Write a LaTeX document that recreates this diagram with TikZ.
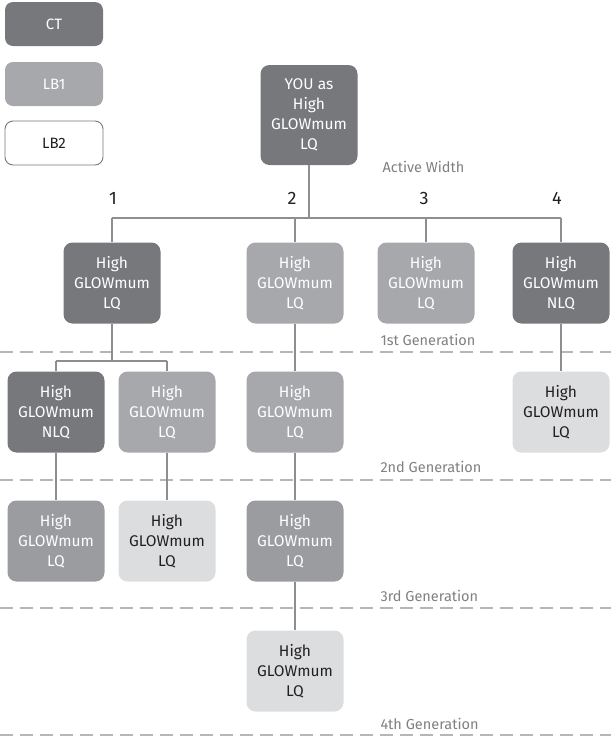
\documentclass[tikz,border=0pt]{standalone}
\usepackage{fontspec}
\setmainfont{Fira Sans}
\usepackage{xcolor}
\usepackage{tikz}
\definecolor{ctgray}{HTML}{77787B}
\definecolor{lbgray}{HTML}{A7A8AB}
\definecolor{midgray}{HTML}{9B9C9F}
\definecolor{palegray}{HTML}{DCDDDF}
\definecolor{inkblack}{HTML}{231F20}
\definecolor{linegray}{HTML}{8D8E91}
\definecolor{dashgray}{HTML}{B5B6B8}
\definecolor{notegray}{HTML}{7F8083}

\begin{document}
\begin{tikzpicture}[x=1pt, y=-1pt,
    gbox/.style={rounded corners=9pt, minimum width=97pt, minimum height=81pt, align=center, inner sep=0pt, font=\fontsize{15.5}{20}\selectfont, text=white},
    ctbox/.style={gbox, fill=ctgray},
    lbbox/.style={gbox, fill=lbgray},
    midbox/.style={gbox, fill=midgray},
    palebox/.style={gbox, fill=palegray, text=inkblack},
    keybox/.style={rounded corners=8pt, minimum width=98pt, minimum height=44pt, inner sep=0pt, font=\fontsize{15}{17}\selectfont},
    link/.style={draw=linegray, line width=1.4pt},
    genline/.style={draw=dashgray, line width=1.3pt, dash pattern=on 13pt off 7pt},
    genlabel/.style={anchor=west, text=notegray, font=\fontsize{14.5}{16}\selectfont},
    colnum/.style={text=inkblack, font=\fontsize{18}{20}\selectfont}]
        \useasboundingbox (0,0) rectangle (611,737);

        \node[keybox, fill=ctgray, text=white] (ct) at (54,24) {CT};
        \node[keybox, fill=lbgray, text=white] (lbone) at (54,84) {LB1};
        \node[keybox, draw=ctgray, line width=0.9pt, fill=white, text=inkblack] (lbtwo) at (54,143) {LB2};

        \draw[genline] (0,352) -- (611,352);
        \draw[genline] (0,480) -- (611,480);
        \draw[genline] (0,608) -- (611,608);
        \draw[genline] (0,735) -- (611,735);

        \node[ctbox, minimum height=100pt] (root) at (309,115) {YOU as\\High\\GLOWmum\\LQ};
        \node[genlabel] (width) at (379,167) {Active Width};

        \node[colnum] (n1) at (113,198) {1};
        \node[colnum] (n2) at (292,198) {2};
        \node[colnum] (n3) at (424,198) {3};
        \node[colnum] (n4) at (557,198) {4};

        \node[ctbox] (g1a) at (112,283) {High\\GLOWmum\\LQ};
        \node[lbbox] (g1b) at (295,283) {High\\GLOWmum\\LQ};
        \node[lbbox] (g1c) at (426,283) {High\\GLOWmum\\LQ};
        \node[ctbox] (g1d) at (561,283) {High\\GLOWmum\\NLQ};
        \node[genlabel] (gen1) at (377,340) {1st Generation};

        \node[ctbox] (g2a) at (56,412) {High\\GLOWmum\\NLQ};
        \node[lbbox] (g2b) at (167,412) {High\\GLOWmum\\LQ};
        \node[lbbox] (g2c) at (295,412) {High\\GLOWmum\\LQ};
        \node[palebox] (g2d) at (561,412) {High\\GLOWmum\\LQ};
        \node[genlabel] (gen2) at (377,467) {2nd Generation};

        \node[midbox] (g3a) at (56,541) {High\\GLOWmum\\LQ};
        \node[palebox] (g3b) at (167,541) {High\\GLOWmum\\LQ};
        \node[midbox] (g3c) at (295,541) {High\\GLOWmum\\LQ};
        \node[genlabel] (gen3) at (377,596) {3rd Generation};

        \node[palebox] (g4) at (295,671) {High\\GLOWmum\\LQ};
        \node[genlabel] (gen4) at (377,724) {4th Generation};

        \coordinate (bus) at (0,218);
        \coordinate (split) at (0,361);
        \draw[link] (root.south) -- (root |- bus);
        \draw[link] (g1a |- bus) -- (g1d |- bus);
        \foreach \g in {g1a,g1b,g1c,g1d}
            \draw[link] (\g |- bus) -- (\g.north);

        \draw[link] (g1a.south) -- (g1a |- split);
        \draw[link] (g2a |- split) -- (g2b |- split);
        \draw[link] (g2a |- split) -- (g2a.north);
        \draw[link] (g2b |- split) -- (g2b.north);
        \draw[link] (g1b) -- (g2c);
        \draw[link] (g1d) -- (g2d);
        \draw[link] (g2a) -- (g3a);
        \draw[link] (g2b) -- (g3b);
        \draw[link] (g2c) -- (g3c);
        \draw[link] (g3c) -- (g4);
    \end{tikzpicture}
\end{document}
